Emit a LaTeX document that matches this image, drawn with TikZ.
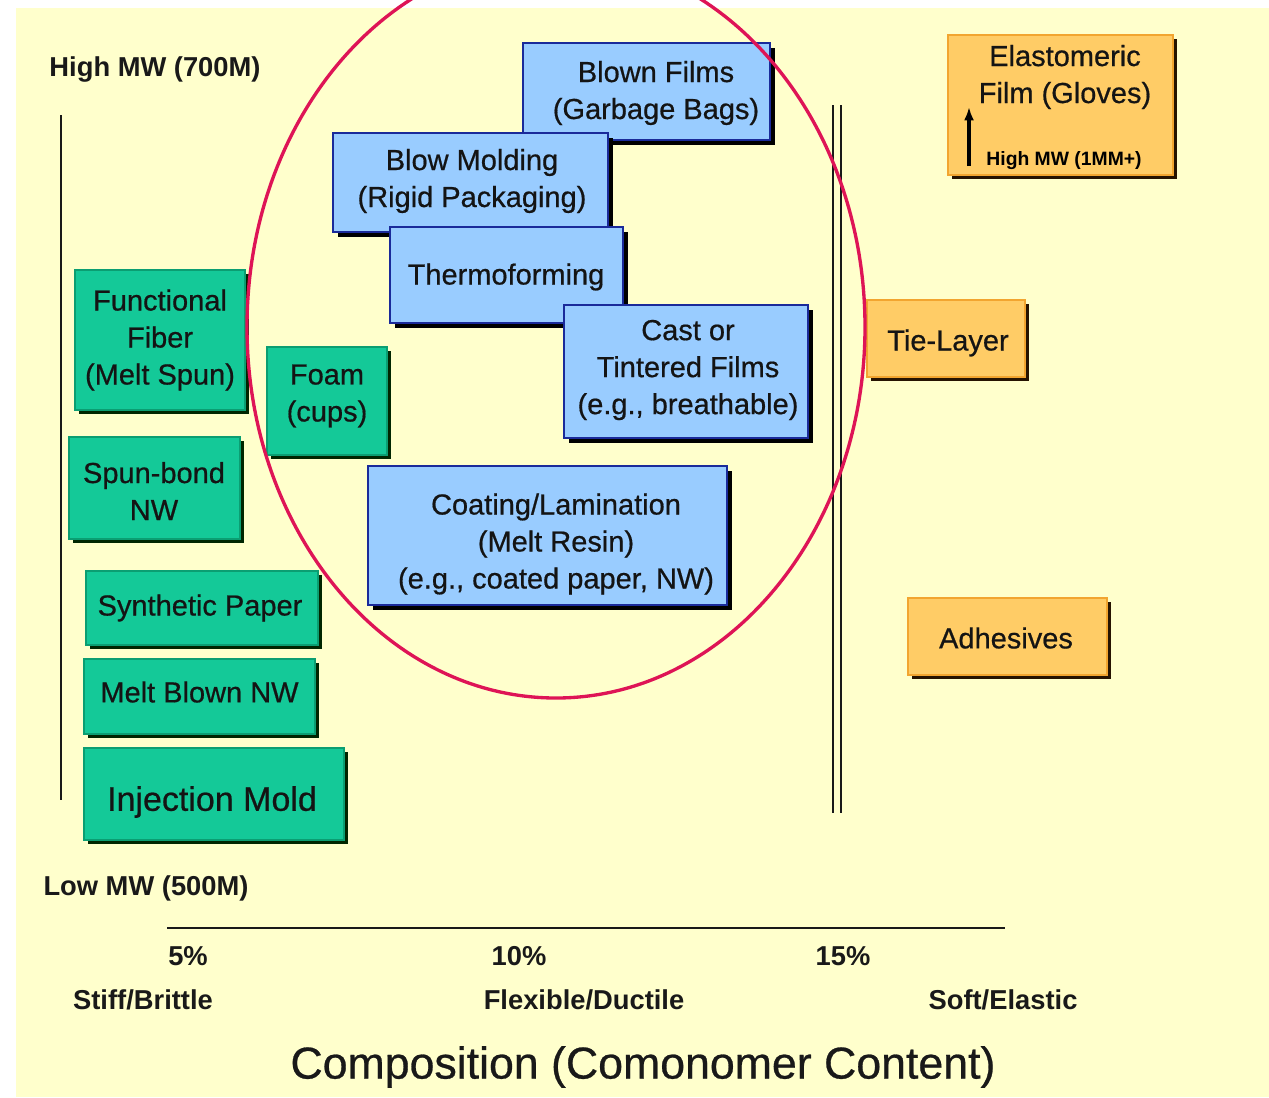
\documentclass[tikz,border=0pt]{standalone}
\usepackage{fontspec}
\setmainfont{Liberation Sans}
\newfontfamily\medfont{Liberation Sans}[FakeBold=0.6]
\usetikzlibrary{shadows,arrows.meta}
\definecolor{bgyellow}{HTML}{FFFFCC}
\definecolor{bluefill}{HTML}{99CCFF}
\definecolor{blueedge}{HTML}{1A2A9A}
\definecolor{greenfill}{HTML}{14C998}
\definecolor{greenedge}{HTML}{0B9E72}
\definecolor{orangefill}{HTML}{FFCC66}
\definecolor{orangeedge}{HTML}{F2A530}
\definecolor{ellcol}{HTML}{DE1456}
\begin{document}
\begin{tikzpicture}[x=0.75pt,y=-0.75pt,
  boxbase/.style={rectangle, inner sep=0pt},
  bluebox/.style={boxbase, fill=bluefill, draw=blueedge, line width=1.5pt,
    general shadow={fill=black, shadow xshift=3.5pt, shadow yshift=-3.5pt}},
  greenbox/.style={boxbase, fill=greenfill, draw=greenedge, line width=0.8pt,
    general shadow={fill=black!85!green, shadow xshift=3.2pt, shadow yshift=-3.2pt}},
  orangebox/.style={boxbase, fill=orangefill, draw=orangeedge, line width=0.8pt,
    general shadow={fill=black!85!orange, shadow xshift=3.2pt, shadow yshift=-3.2pt}},
  boxtext/.style={inner sep=0pt, align=center, text=black!92, font=\medfont\fontsize{21.75}{27.75}\selectfont},
  axislabel/.style={inner sep=0pt, text=black!90, font=\fontsize{20.5}{24}\selectfont\bfseries},
  axisline/.style={line width=1.8pt, black!90},
]
\useasboundingbox (0,0) rectangle (1269,1097);
\clip (0,0) rectangle (1269,1097);
\fill[white] (0,0) rectangle (1269,1097);
\fill[bgyellow] (16,8) rectangle (1269,1097);

% axes
\coordinate (yaxT) at (61,115);
\coordinate (yaxB) at (61,800);
\draw[axisline] (yaxT) -- (yaxB);
\coordinate (d1T) at (833,105);
\coordinate (d1B) at (833,813);
\coordinate (d2T) at (841,105);
\coordinate (d2B) at (841,813);
\draw[axisline] (d1T) -- (d1B);
\draw[axisline] (d2T) -- (d2B);
\coordinate (xaxL) at (167,928);
\coordinate (xaxR) at (1005,928);
\draw[axisline, line width=2pt] (xaxL) -- (xaxR);

\node[axislabel] (highmw) at (155,69) {High MW (700M)};
\node[axislabel] (lowmw) at (146,888) {Low MW (500M)};
\node[axislabel] (p5) at (188,956) {5\%};
\node[axislabel] (p10) at (519,956) {10\%};
\node[axislabel] (p15) at (843,956) {15\%};
\node[axislabel] (stiff) at (143,1000) {Stiff/Brittle};
\node[axislabel] (flex) at (584,1000) {Flexible/Ductile};
\node[axislabel] (soft) at (1003,1000) {Soft/Elastic};
\node[inner sep=0pt, text=black!90, font=\medfont\fontsize{33.5}{38}\selectfont] (title) at (643,1067) {Composition (Comonomer Content)};

% blue boxes
\node[bluebox, minimum width=247*0.75pt, minimum height=97*0.75pt] (blown) at (646.5,91.5) {};
\node[boxtext] (blownT) at (656,93) {Blown Films\\(Garbage Bags)};
\node[bluebox, minimum width=275*0.75pt, minimum height=99*0.75pt] (blowmold) at (470.5,182.5) {};
\node[boxtext] (blowmoldT) at (472,181) {Blow Molding\\(Rigid Packaging)};
\node[bluebox, minimum width=233*0.75pt, minimum height=96*0.75pt] (thermo) at (506.5,275) {};
\node[boxtext] (thermoT) at (506,277) {Thermoforming};
\node[bluebox, minimum width=244*0.75pt, minimum height=133*0.75pt] (cast) at (686,371.5) {};
\node[boxtext] (castT) at (688,370) {Cast or\\Tintered Films\\(e.g., breathable)};
\node[bluebox, minimum width=359*0.75pt, minimum height=139*0.75pt] (coat) at (547.5,535.5) {};
\node[boxtext] (coatT) at (556,544) {Coating/Lamination\\(Melt Resin)\\(e.g., coated paper, NW)};

% green boxes
\node[greenbox, minimum width=170*0.75pt, minimum height=140*0.75pt] (func) at (160,340) {};
\node[boxtext] (funcT) at (160,340) {Functional\\Fiber\\(Melt Spun)};
\node[greenbox, minimum width=120*0.75pt, minimum height=108*0.75pt] (foam) at (327,401) {};
\node[boxtext] (foamT) at (327,396) {Foam\\(cups)};
\node[greenbox, minimum width=171*0.75pt, minimum height=102*0.75pt] (spun) at (154.5,488) {};
\node[boxtext] (spunT) at (154,491) {Spun-bond\\NW};
\node[greenbox, minimum width=232*0.75pt, minimum height=74*0.75pt] (synth) at (202,608) {};
\node[boxtext] (synthT) at (200,608) {Synthetic Paper};
\node[greenbox, minimum width=231*0.75pt, minimum height=75*0.75pt] (melt) at (199.5,696.5) {};
\node[boxtext] (meltT) at (199.5,692) {Melt Blown NW};
\node[greenbox, minimum width=260*0.75pt, minimum height=92*0.75pt] (inj) at (214,794) {};
\node[boxtext, font=\medfont\fontsize{25.5}{30}\selectfont] (injT) at (212,802) {Injection Mold};

% orange boxes
\node[orangebox, minimum width=225*0.75pt, minimum height=140*0.75pt] (elast) at (1060.5,105) {};
\node[boxtext] (elastT) at (1065,77) {Elastomeric\\Film (Gloves)};
\node[inner sep=0pt, text=black, font=\fontsize{14.5}{17}\selectfont\bfseries] (hmw) at (1064,161) {High MW (1MM+)};
\coordinate (arrB) at (969,166);
\coordinate (arrT) at (969,107);
\draw[line width=2.3pt, -{Latex[length=10pt,width=7.5pt]}] (arrB) -- (arrT);
\node[orangebox, minimum width=158*0.75pt, minimum height=77*0.75pt] (tie) at (946,338.5) {};
\node[boxtext] (tieT) at (948,343) {Tie-Layer};
\node[orangebox, minimum width=199*0.75pt, minimum height=77*0.75pt] (adh) at (1007.5,636.5) {};
\node[boxtext] (adhT) at (1006,638) {Adhesives};

% ellipse
\draw[ellcol, line width=2.5pt] (556,327) ellipse [x radius=231.75pt, y radius=278.25pt];
\end{tikzpicture}
\end{document}
